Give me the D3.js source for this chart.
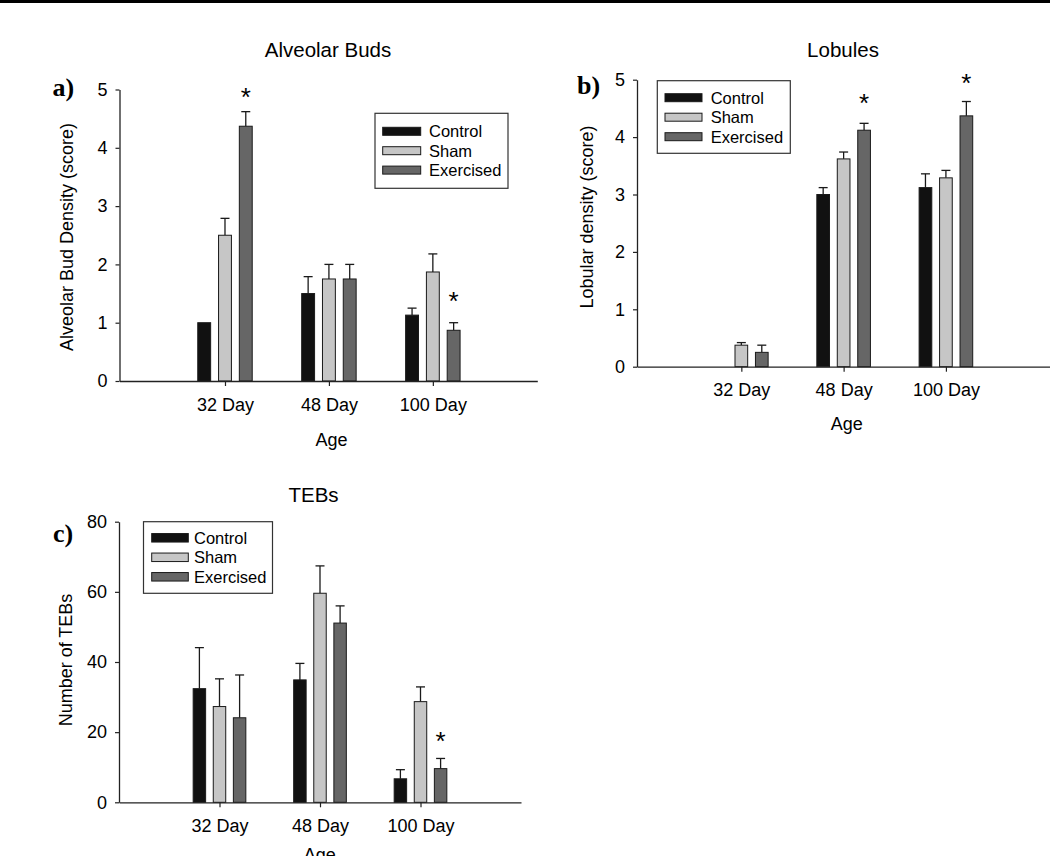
<!DOCTYPE html>
<html>
<head>
<meta charset="utf-8">
<script src="https://cdn.jsdelivr.net/npm/d3@7"></script>
<style>
  html, body { margin: 0; padding: 0; background: #fff; }
  svg { display: block; }
  text { font-family: "Liberation Sans", Arial, sans-serif; fill: #000; }
  text.panel-label { font-family: "Liberation Serif", "Times New Roman", serif; font-weight: bold; }
</style>
</head>
<body>
<svg id="chart" width="1050" height="856"></svg>
<script>
// ---------------- data ----------------
const categories = ["32 Day", "48 Day", "100 Day"];
const groups = ["Control", "Sham", "Exercised"];
const groupColors = ["#111111", "#c6c6c6", "#666666"];

// a) Alveolar Buds (score)
const budsControl = [1.00, 1.50, 1.13];
const budsControlSE = [0, 0.29, 0.12];
const budsSham = [2.50, 1.75, 1.87];
const budsShamSE = [0.29, 0.25, 0.31];
const budsExercised = [4.37, 1.75, 0.87];
const budsExercisedSE = [0.25, 0.25, 0.13];
const budsStars = [{cat: 0, group: 2, y: 4.97}, {cat: 2, group: 2, y: 1.475}];
const budsTicks = [0, 1, 2, 3, 4, 5];

// b) Lobules (score)
const lobControl = [0, 3.00, 3.12];
const lobControlSE = [0, 0.12, 0.24];
const lobSham = [0.375, 3.62, 3.29];
const lobShamSE = [0.045, 0.12, 0.13];
const lobExercised = [0.25, 4.12, 4.37];
const lobExercisedSE = [0.125, 0.12, 0.25];
const lobStars = [{cat: 1, group: 2, y: 4.70}, {cat: 2, group: 2, y: 5.05}];
const lobTicks = [0, 1, 2, 3, 4, 5];

// c) TEBs (count)
const tebControl = [32.4, 34.9, 6.7];
const tebControlSE = [11.7, 4.7, 2.6];
const tebSham = [27.3, 59.6, 28.7];
const tebShamSE = [7.9, 7.8, 4.2];
const tebExercised = [24.1, 51.1, 9.6];
const tebExercisedSE = [12.2, 4.9, 2.9];
const tebStars = [{cat: 2, group: 2, y: 19.1}];
const tebTicks = [0, 20, 40, 60, 80];

// ---------------- layout ----------------
const panels = [
  {
    title: "Alveolar Buds", label: "a)", yTitle: "Alveolar Bud Density (score)",
    means: [budsControl, budsSham, budsExercised],
    ses: [budsControlSE, budsShamSE, budsExercisedSE],
    stars: budsStars, ticks: budsTicks, yMax: 5,
    xDomain: [-0.015, 4.005], xRange: [119.5, 537.3], yRange: [381, 89.5],
    titleX: 328, titleY: 57.3, labelX: 52.5, labelY: 96,
    yTitleX: 72.5, yTitleY: 237, ageX: 331.5, ageY: 446,
    legend: {x: 375, y: 113.3, w: 133, h: 75, sx: 7.7, sw: 38, sh: 8, tx: 54, r0: 18, dr: 19.4}
  },
  {
    title: "Lobules", label: "b)", yTitle: "Lobular density (score)",
    means: [lobControl, lobSham, lobExercised],
    ses: [lobControlSE, lobShamSE, lobExercisedSE],
    stars: lobStars, ticks: lobTicks, yMax: 5,
    xDomain: [-0.02, 4.13], xRange: [637, 1061.5], yRange: [366.7, 79.7],
    titleX: 843, titleY: 56.7, labelX: 577, labelY: 94,
    yTitleX: 593, yTitleY: 217, ageX: 846.7, ageY: 430,
    legend: {x: 657.3, y: 80.7, w: 133, h: 72.6, sx: 7.7, sw: 37, sh: 8, tx: 53.4, r0: 17, dr: 19.5}
  },
  {
    title: "TEBs", label: "c)", yTitle: "Number of TEBs",
    means: [tebControl, tebSham, tebExercised],
    ses: [tebControlSE, tebShamSE, tebExercisedSE],
    stars: tebStars, ticks: tebTicks, yMax: 80,
    xDomain: [0, 4], xRange: [119, 521], yRange: [802.3, 521.7],
    titleX: 313.5, titleY: 501.7, labelX: 53, labelY: 542,
    yTitleX: 71.5, yTitleY: 660, ageX: 319.7, ageY: 861,
    legend: {x: 143.5, y: 521.7, w: 129, h: 71.6, sx: 8.2, sw: 36.6, sh: 8.5, tx: 50.5, r0: 16.1, dr: 19.5}
  }
];

const svg = d3.select("#chart");
svg.append("rect").attr("x", 0).attr("y", 0).attr("width", 1050).attr("height", 3).attr("fill", "#000");

const barOffset = 0.2, barWidth = 0.124, capHalf = 4.5;
const tickFont = 18;

panels.forEach(p => {
  const g = svg.append("g");
  const x = d3.scaleLinear().domain(p.xDomain).range(p.xRange);
  const y = d3.scaleLinear().domain([0, p.yMax]).range(p.yRange);
  const bw = x(barWidth) - x(0);

  // bars and error bars
  p.means.forEach((series, gi) => {
    series.forEach((v, ci) => {
      if (v <= 0) return;
      const cx = x(ci + 1 + (gi - 1) * barOffset);
      const se = p.ses[gi][ci];
      if (se > 0) {
        g.append("line")
          .attr("x1", cx).attr("x2", cx)
          .attr("y1", y(v)).attr("y2", y(v + se))
          .attr("stroke", "#1a1a1a").attr("stroke-width", 1.3);
        g.append("line")
          .attr("x1", cx - capHalf).attr("x2", cx + capHalf)
          .attr("y1", y(v + se)).attr("y2", y(v + se))
          .attr("stroke", "#1a1a1a").attr("stroke-width", 1.3);
      }
      g.append("rect")
        .attr("x", cx - bw / 2).attr("width", bw)
        .attr("y", y(v)).attr("height", y(0) - y(v))
        .attr("fill", groupColors[gi])
        .attr("stroke", "#1a1a1a").attr("stroke-width", 1);
    });
  });

  // axes
  const xAxis = d3.axisBottom(x).tickValues([1, 2, 3])
    .tickFormat((d, i) => categories[i]).tickSize(5).tickSizeOuter(0).tickPadding(12);
  const xg = g.append("g").attr("transform", `translate(0,${y(0)})`).call(xAxis);
  const yAxis = d3.axisLeft(y).tickValues(p.ticks).tickFormat(d3.format("d"))
    .tickSize(4).tickSizeOuter(0).tickPadding(8);
  const yg = g.append("g").attr("transform", `translate(${p.xRange[0]},0)`).call(yAxis);
  [xg, yg].forEach(ax => {
    ax.select(".domain").attr("stroke", "#222").attr("stroke-width", 1.3);
    ax.selectAll(".tick line").attr("stroke", "#222").attr("stroke-width", 1.2);
    ax.selectAll(".tick text").attr("font-size", tickFont).attr("fill", "#000");
  });

  // significance stars
  p.stars.forEach(s => {
    const fs = 26;
    g.append("text")
      .attr("x", x(s.cat + 1 + (s.group - 1) * barOffset))
      .attr("y", y(s.y) + 0.58 * fs)
      .attr("text-anchor", "middle").attr("font-size", fs).text("*");
  });

  // titles
  g.append("text").attr("x", p.titleX).attr("y", p.titleY)
    .attr("text-anchor", "middle").attr("font-size", 20.5).text(p.title);
  g.append("text").attr("class", "panel-label").attr("x", p.labelX).attr("y", p.labelY)
    .attr("font-size", 26).text(p.label);
  g.append("text")
    .attr("transform", `translate(${p.yTitleX},${p.yTitleY}) rotate(-90)`)
    .attr("text-anchor", "middle").attr("font-size", 18).text(p.yTitle);
  g.append("text").attr("x", p.ageX).attr("y", p.ageY)
    .attr("text-anchor", "middle").attr("font-size", 18).text("Age");

  // legend
  const L = p.legend;
  const lg = g.append("g").attr("transform", `translate(${L.x},${L.y})`);
  lg.append("rect").attr("width", L.w).attr("height", L.h)
    .attr("fill", "#fff").attr("stroke", "#333").attr("stroke-width", 1.2);
  groups.forEach((name, i) => {
    const cy = L.r0 + i * L.dr;
    lg.append("rect").attr("x", L.sx).attr("y", cy - L.sh / 2)
      .attr("width", L.sw).attr("height", L.sh)
      .attr("fill", groupColors[i]).attr("stroke", "#1a1a1a").attr("stroke-width", 1);
    lg.append("text").attr("x", L.tx).attr("y", cy + 5.9)
      .attr("font-size", 16.5).text(name);
  });
});
</script>
</body>
</html>
